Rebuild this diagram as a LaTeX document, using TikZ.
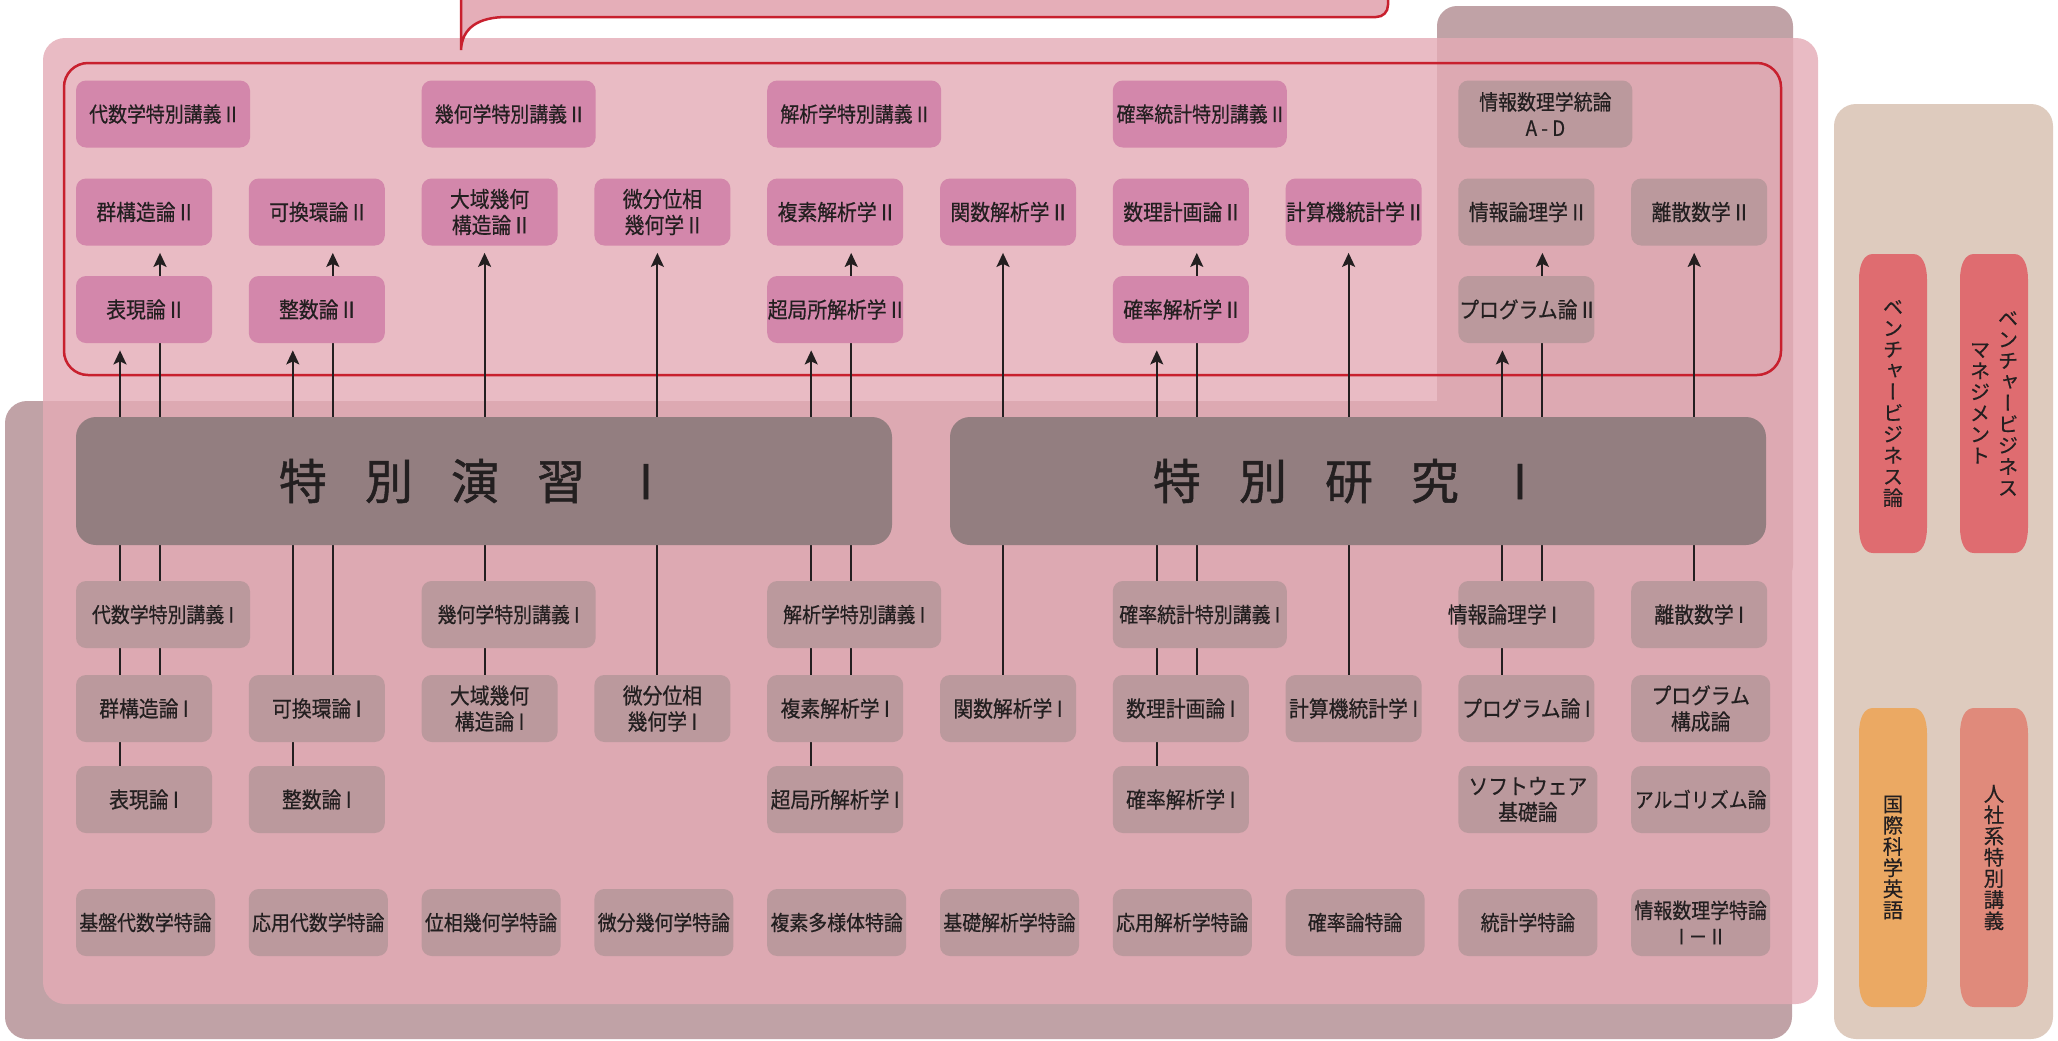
\documentclass[tikz,border=0pt]{standalone}
\usepackage{fontspec}
\newfontfamily\jpfont[FakeStretch=0.9,FakeBold=0.5]{Noto Sans CJK JP}
\newfontfamily\jpbar[FakeBold=1]{Noto Sans CJK JP}
\newfontfamily\jpvert[RawFeature=+vert,FakeBold=0.4]{Noto Sans CJK JP}
\usetikzlibrary{arrows.meta}
\usetikzlibrary{backgrounds}

\definecolor{ink}{HTML}{231F20}
\definecolor{mauvepanel}{HTML}{C0A2A6}
\definecolor{pinkpanel}{RGB}{228,171,182}
\definecolor{calloutpink}{HTML}{E5AEB8}
\definecolor{alarmred}{HTML}{C8202E}
\definecolor{boxpink}{HTML}{D387AB}
\definecolor{boxgray}{HTML}{BB999D}
\definecolor{barmauve}{HTML}{937E80}
\definecolor{beigepanel}{HTML}{DECBBE}
\definecolor{pillred}{HTML}{DF6C70}
\definecolor{pillorange}{HTML}{EBA963}
\definecolor{pillsalmon}{HTML}{E08A7B}

\newcommand{\vcol}[1]{\parbox[c]{12pt}{\centering #1}}

\pgfdeclarelayer{panels}
\pgfdeclarelayer{wires}
\pgfsetlayers{panels,wires,main}

\begin{document}
\begin{tikzpicture}[x=0.5pt,y=-0.5pt,
  box/.style={rounded corners=5pt,minimum width=68pt,minimum height=33.5pt,inner sep=0pt,
    align=center,text=ink,font=\jpfont\fontsize{11}{13}\selectfont},
  upper/.style={box,fill=boxpink},
  lower/.style={box,fill=boxgray},
  wide/.style={minimum width=87pt,font=\jpfont\fontsize{10.5}{13}\selectfont},
  seminar/.style={lower,minimum width=69.5pt,font=\jpfont\fontsize{10.5}{13}\selectfont},
  bar/.style={fill=barmauve,rounded corners=10pt,minimum width=408pt,minimum height=64pt,
    inner sep=0pt,text=ink,font=\jpbar\fontsize{24}{28}\selectfont},
  link/.style={draw=ink,line width=1pt,-{Stealth[length=7pt,width=6.5pt,inset=1.5pt]},shorten >=3.5pt},
  vtext/.style={inner sep=0pt,text=ink,font=\jpvert\fontsize{10.2}{10.6}\selectfont}]
\useasboundingbox (0,0) rectangle (2058,1040);

\begin{pgfonlayer}{panels}
  \fill[mauvepanel,rounded corners=10pt] (1437,6) rectangle (1793,585);
  \fill[mauvepanel,rounded corners=11pt] (5,401) rectangle (1792,1039);
  \fill[pinkpanel,fill opacity=0.81,rounded corners=11pt] (43,38) rectangle (1818,1004);
  \fill[calloutpink] (461,-20) -- (461,50) .. controls (462,28) and (478,17) .. (507,17)
    -- (1376,17) .. controls (1383,17) and (1388,12) .. (1388,5) -- (1388,-20) -- cycle;
  \draw[alarmred,line width=1.25pt] (461,-20) -- (461,50) .. controls (462,28) and (478,17) .. (507,17)
    -- (1376,17) .. controls (1383,17) and (1388,12) .. (1388,5) -- (1388,-20);
  \draw[alarmred,line width=1.25pt,rounded corners=12pt] (64,63) rectangle (1781,375);
  \fill[beigepanel,rounded corners=11pt] (1834,104) rectangle (2053,1039);
  \foreach \xa/\ya/\col in {1859/254/pillred,1960/254/pillred,1859/708/pillorange,1960/708/pillsalmon}
    \fill[\col] (\xa,\ya+26) .. controls (\xa,\ya+10) and (\xa+5,\ya) .. (\xa+14,\ya)
      -- (\xa+54,\ya) .. controls (\xa+63,\ya) and (\xa+68,\ya+10) .. (\xa+68,\ya+26)
      -- (\xa+68,\ya+273) .. controls (\xa+68,\ya+289) and (\xa+63,\ya+299) .. (\xa+54,\ya+299)
      -- (\xa+14,\ya+299) .. controls (\xa+5,\ya+299) and (\xa,\ya+289) .. (\xa,\ya+273) -- cycle;
\end{pgfonlayer}

\node[vtext] (venture) at (1893,403.5) {\vcol{ベ\\ン\\チ\\ャ\\ー\\ビ\\ジ\\ネ\\ス\\論}};
\node[vtext] (ventmgmt) at (1994,403.5) {\vcol{マ\\ネ\\ジ\\メ\\ン\\ト}\hspace{2pt}\vcol{ベ\\ン\\チ\\ャ\\ー\\ビ\\ジ\\ネ\\ス}};
\node[vtext] (sciEng) at (1893,857.5) {\vcol{国\\際\\科\\学\\英\\語}};
\node[vtext] (humSp) at (1994,857.5) {\vcol{人\\社\\系\\特\\別\\講\\義}};

\node[upper,wide] (algSpII) at (163,114) {代数学特別講義 II};
\node[upper,wide] (geoSpII) at (508.6,114) {幾何学特別講義 II};
\node[upper,wide] (anaSpII) at (854.2,114) {解析学特別講義 II};
\node[upper,wide] (prbSpII) at (1199.8,114) {確率統計特別講義 II};
\node[lower,wide] (infoAD) at (1545.4,114) {情報数理学統論\\A - D};

\node[upper] (grpII) at (144,212) {群構造論 II};
\node[upper] (comII) at (316.8,212) {可換環論 II};
\node[upper] (gloII) at (489.6,212) {大域幾何\\構造論 II};
\node[upper] (difII) at (662.4,212) {微分位相\\幾何学 II};
\node[upper] (cpxII) at (835.2,212) {複素解析学 II};
\node[upper] (funII) at (1008,212) {関数解析学 II};
\node[upper] (mprII) at (1180.8,212) {数理計画論 II};
\node[upper] (cstII) at (1353.6,212) {計算機統計学 II};
\node[lower] (logII) at (1526.4,212) {情報論理学 II};
\node[lower] (disII) at (1699.2,212) {離散数学 II};

\node[upper] (repII) at (144,309.5) {表現論 II};
\node[upper] (intII) at (316.8,309.5) {整数論 II};
\node[upper] (mlcII) at (835.2,309.5) {超局所解析学 II};
\node[upper] (stoII) at (1180.8,309.5) {確率解析学 II};
\node[lower] (prgII) at (1526.4,309.5) {プログラム論 II};

\node[bar] (exI) at (484,481) {\makebox[0pt]{特\hspace{19pt}別\hspace{19pt}演\hspace{19pt}習\hspace{27pt}I\hspace*{18pt}}};
\node[bar] (resI) at (1358,481) {\makebox[0pt]{特\hspace{19pt}別\hspace{19pt}研\hspace{19pt}究\hspace{27pt}I\hspace*{18pt}}};

\node[lower,wide] (algSpI) at (163,614.5) {代数学特別講義 I};
\node[lower,wide] (geoSpI) at (508.6,614.5) {幾何学特別講義 I};
\node[lower,wide] (anaSpI) at (854.2,614.5) {解析学特別講義 I};
\node[lower,wide] (prbSpI) at (1199.8,614.5) {確率統計特別講義 I};
\node[lower] (logI) at (1526.4,614.5) {\makebox[0pt]{情報論理学 I\hspace*{24pt}}};
\node[lower] (disI) at (1699.2,614.5) {離散数学 I};

\node[lower] (grpI) at (144,708.5) {群構造論 I};
\node[lower] (comI) at (316.8,708.5) {可換環論 I};
\node[lower] (gloI) at (489.6,708.5) {大域幾何\\構造論 I};
\node[lower] (difI) at (662.4,708.5) {微分位相\\幾何学 I};
\node[lower] (cpxI) at (835.2,708.5) {複素解析学 I};
\node[lower] (funI) at (1008,708.5) {関数解析学 I};
\node[lower] (mprI) at (1180.8,708.5) {数理計画論 I};
\node[lower] (cstI) at (1353.6,708.5) {計算機統計学 I};
\node[lower] (prgI) at (1526.4,708.5) {プログラム論 I};
\node[lower,minimum width=69.5pt] (prgCon) at (1700.7,708.5) {プログラム\\構成論};

\node[lower] (repI) at (144,799.5) {表現論 I};
\node[lower] (intI) at (316.8,799.5) {整数論 I};
\node[lower] (mlcI) at (835.2,799.5) {超局所解析学 I};
\node[lower] (stoI) at (1180.8,799.5) {確率解析学 I};
\node[lower,minimum width=69.5pt] (softBase) at (1527.9,799.5) {ソフトウェア\\基礎論};
\node[seminar] (algo) at (1700.7,799.5) {アルゴリズム論};

\foreach \name/\txt [count=\i from 0] in {semA/基盤代数学特論,semB/応用代数学特論,semC/位相幾何学特論,
    semD/微分幾何学特論,semE/複素多様体特論,semF/基礎解析学特論,semG/応用解析学特論,
    semH/確率論特論,semI/統計学特論,semJ/情報数理学特論\\I － II}
  \node[seminar] (\name) at (145.5+172.8*\i,922.5) {\txt};

\begin{pgfonlayer}{wires}
  \draw[link] ([xshift=-12pt]repI.north) -- ([xshift=-12pt]repII.south);
  \draw[link] ([xshift=8pt]grpI.north) -- ([xshift=8pt]grpII.south);
  \draw[link] ([xshift=-12pt]intI.north) -- ([xshift=-12pt]intII.south);
  \draw[link] ([xshift=8pt]comI.north) -- ([xshift=8pt]comII.south);
  \draw[link] ([xshift=-2.5pt]gloI.north) -- ([xshift=-2.5pt]gloII.south);
  \draw[link] ([xshift=-2.5pt]difI.north) -- ([xshift=-2.5pt]difII.south);
  \draw[link] ([xshift=-12pt]mlcI.north) -- ([xshift=-12pt]mlcII.south);
  \draw[link] ([xshift=8pt]cpxI.north) -- ([xshift=8pt]cpxII.south);
  \draw[link] ([xshift=-2.5pt]funI.north) -- ([xshift=-2.5pt]funII.south);
  \draw[link] ([xshift=-12pt]stoI.north) -- ([xshift=-12pt]stoII.south);
  \draw[link] ([xshift=8pt]mprI.north) -- ([xshift=8pt]mprII.south);
  \draw[link] ([xshift=-2.5pt]cstI.north) -- ([xshift=-2.5pt]cstII.south);
  \draw[link] ([xshift=-12pt]prgI.north) -- ([xshift=-12pt]prgII.south);
  \draw[link] ([xshift=8pt]logI.north) -- ([xshift=8pt]logII.south);
  \draw[link] ([xshift=-2.5pt]disI.north) -- ([xshift=-2.5pt]disII.south);
\end{pgfonlayer}
\end{tikzpicture}
\end{document}
